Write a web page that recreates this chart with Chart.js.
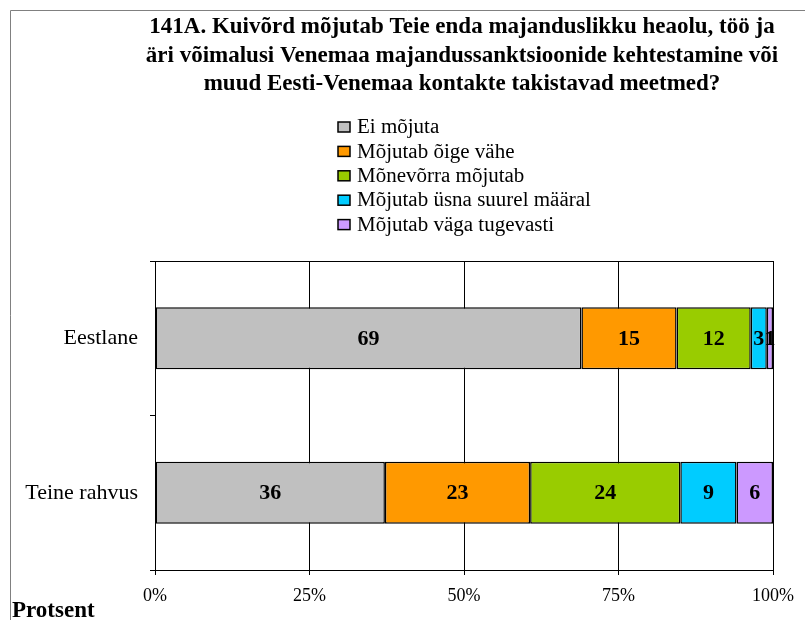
<!DOCTYPE html>
<html lang="et">
<head>
  <meta charset="UTF-8">
  <title>141A. Venemaa sanktsioonide mõju</title>
  <script src="https://cdn.jsdelivr.net/npm/chart.js"></script>
  <style>
    html, body {
      margin: 0;
      background: white;
    }
    #wrap {
      width: 805px;
      height: 620px;
      position: relative;
    }
  </style>
</head>
<body>
  <div id="wrap">
    <canvas id="chart" width="805" height="620"></canvas>
  </div>

  <script>
    const titleLines = [
      '141A. Kuivõrd mõjutab Teie enda majanduslikku heaolu, töö ja',
      'äri võimalusi Venemaa majandussanktsioonide kehtestamine või',
      'muud Eesti-Venemaa kontakte takistavad meetmed?'
    ];
    const categories = ['Eestlane', 'Teine rahvus'];
    const seriesNames = [
      'Ei mõjuta',
      'Mõjutab õige vähe',
      'Mõnevõrra mõjutab',
      'Mõjutab üsna suurel määral',
      'Mõjutab väga tugevasti'
    ];
    // bar lengths (share of row, %)
    const eiMojuta = [69.0, 37.2];
    const oigeVahe = [15.4, 23.5];
    const monevorra = [12.0, 24.3];
    const usnaSuurel = [2.6, 9.1];
    const vagaTugevasti = [1.0, 5.9];
    // numbers printed on the bars
    const eiMojutaLabels = [69, 36];
    const oigeVaheLabels = [15, 23];
    const monevorraLabels = [12, 24];
    const usnaSuurelLabels = [3, 9];
    const vagaTugevastiLabels = [1, 6];
    const colors = ['#C0C0C0', '#FF9900', '#99CC00', '#00CCFF', '#CC99FF'];
    const xTicks = [0, 25, 50, 75, 100];
    const axisTitle = 'Protsent';

    const series = [eiMojuta, oigeVahe, monevorra, usnaSuurel, vagaTugevasti];
    const labels = [eiMojutaLabels, oigeVaheLabels, monevorraLabels, usnaSuurelLabels, vagaTugevastiLabels];

    const serif = "'Liberation Serif', 'Times New Roman', serif";

    const decor = {
      id: 'decor',
      beforeDraw(chart) {
        const c = chart.ctx;
        c.save();
        c.strokeStyle = '#808080';
        c.lineWidth = 1;
        c.beginPath();
        c.moveTo(10.5, 620);
        c.lineTo(10.5, 10.5);
        c.lineTo(805, 10.5);
        c.stroke();
        c.restore();
      },
      afterDraw(chart) {
        const c = chart.ctx;
        const a = chart.chartArea;
        c.save();
        // plot frame
        c.strokeStyle = '#000';
        c.lineWidth = 1;
        c.strokeRect(Math.round(a.left) + 0.5, Math.round(a.top) + 0.5,
          Math.round(a.right - a.left), Math.round(a.bottom - a.top));

        // title
        c.fillStyle = '#000';
        c.font = 'bold 23px ' + serif;
        c.textAlign = 'center';
        c.textBaseline = 'alphabetic';
        titleLines.forEach((t, i) => c.fillText(t, 462, 33 + i * 28.5));

        // legend
        c.textAlign = 'left';
        c.textBaseline = 'middle';
        chart.data.datasets.forEach((ds, i) => {
          const y = 127 + i * 24.4;
          c.fillStyle = ds.backgroundColor;
          c.fillRect(338, y - 5, 12, 10);
          c.strokeStyle = '#000';
          c.lineWidth = 1.5;
          c.strokeRect(338, y - 5, 12, 10);
          c.fillStyle = '#000';
          c.save();
          c.translate(357, y + 1);
          c.scale(1.05, 1);
          c.font = '20px ' + serif;
          c.fillText(ds.label, 0, 0);
          c.restore();
        });

        // axis title
        c.font = 'bold 23px ' + serif;
        c.textAlign = 'left';
        c.textBaseline = 'alphabetic';
        c.fillText(axisTitle, 12, 617);

        // value labels
        c.font = 'bold 22px ' + serif;
        c.textAlign = 'center';
        c.textBaseline = 'middle';
        chart.data.datasets.forEach((ds, i) => {
          chart.getDatasetMeta(i).data.forEach((el, j) => {
            const x = (el.x + el.base) / 2;
            c.fillText(String(labels[i][j]), x, el.y + 1);
          });
        });
        c.restore();
      }
    };

    const ctx = document.getElementById('chart').getContext('2d');
    new Chart(ctx, {
      type: 'bar',
      data: {
        labels: categories,
        datasets: series.map((arr, i) => ({
          label: seriesNames[i],
          data: arr,
          backgroundColor: colors[i],
          borderColor: '#000',
          borderWidth: 1.5,
          borderSkipped: false,
          barPercentage: 0.4,
          categoryPercentage: 1
        }))
      },
      options: {
        indexAxis: 'y',
        responsive: false,
        animation: false,
        layout: { padding: { left: 10, right: 32, top: 261, bottom: 0 } },
        plugins: {
          legend: { display: false },
          title: { display: false },
          tooltip: { enabled: false }
        },
        scales: {
          x: {
            stacked: true,
            min: 0,
            max: 100,
            afterBuildTicks(scale) {
              scale.ticks = xTicks.map(v => ({ value: v }));
            },
            afterFit(scale) { scale.height = 50; },
            ticks: {
              callback: v => v + '%',
              color: '#000',
              font: { family: serif, size: 18 },
              padding: 10,
              maxRotation: 0
            },
            grid: { color: '#000', lineWidth: 1, tickLength: 5 },
            border: { color: '#000', width: 1 }
          },
          y: {
            stacked: true,
            afterFit(scale) { scale.width = 145; },
            ticks: {
              color: '#000',
              font: { family: serif, size: 22 },
              padding: 12
            },
            grid: { drawOnChartArea: false, color: '#000', tickLength: 5, offset: true },
            border: { color: '#000', width: 1 }
          }
        }
      },
      plugins: [decor]
    });
  </script>
</body>
</html>
